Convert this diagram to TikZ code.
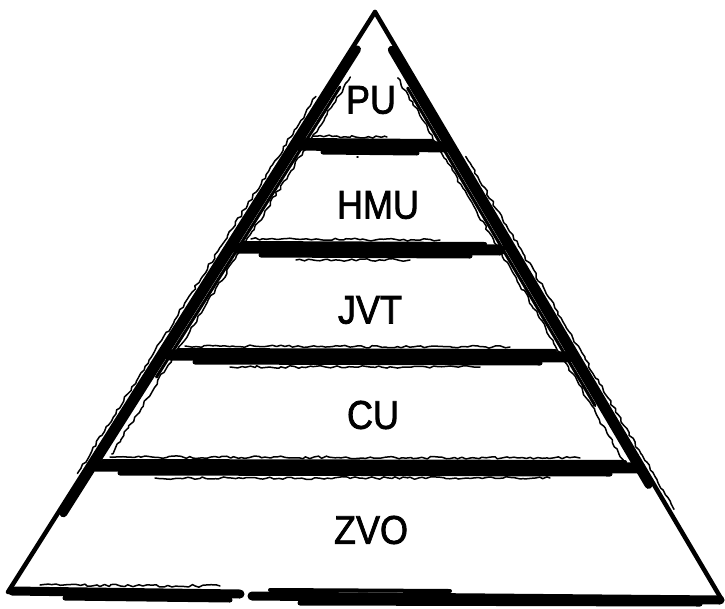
\documentclass[tikz,border=0pt]{standalone}
\usepackage{fontspec}
\setmainfont{Liberation Sans}
\newfontfamily\lblfont[FakeBold=2]{Liberation Sans}
\usetikzlibrary{decorations.pathmorphing,calc}
\begin{document}
\begin{tikzpicture}[x=1pt,y=-1pt,
  solid stroke/.style={line width=#1,line cap=round},
  brush/.style={line width=#1,line cap=round,line join=round,decorate,decoration={random steps,segment length=4pt,amplitude=1.3pt}},
  brush/.default=1.5pt,
  lbl/.style={font=\lblfont\fontsize{40}{40}\selectfont,inner sep=0pt,xscale=0.9}]
\pgfmathsetseed{7}
\useasboundingbox (0,0) rectangle (725,608);
% corners
\coordinate (A) at (375,12);
\coordinate (L) at (8,592);
\coordinate (R) at (722,600);
% edges (left)
\draw[solid stroke=4.5pt] (A) -- (L);
\draw[solid stroke=8pt] ($(A)!0.06!(L)+(4,2.5)$) -- ($(A)!0.86!(L)+(4,2.5)$);
\draw[solid stroke=3pt] ($(A)!0.12!(L)+(9,5.5)$) -- ($(A)!0.62!(L)+(9,5.5)$);
\draw[brush=1.5pt] ($(A)!0.1!(L)+(12,7)$) -- ($(A)!0.75!(L)+(12,7)$);
\draw[brush=1.5pt] ($(A)!0.15!(L)+(-4,-2.5)$) -- ($(A)!0.8!(L)+(-4,-2.5)$);
% edges (right)
\draw[solid stroke=4.5pt] (A) -- (R);
\draw[solid stroke=8pt] ($(A)!0.06!(R)+(-4,2.5)$) -- ($(A)!0.8!(R)+(-4,2.5)$);
\draw[solid stroke=3pt] ($(A)!0.12!(R)+(-9,5.5)$) -- ($(A)!0.66!(R)+(-9,5.5)$);
\draw[brush=1.5pt] ($(A)!0.1!(R)+(-12,7)$) -- ($(A)!0.75!(R)+(-12,7)$);
\draw[brush=1.5pt] ($(A)!0.25!(R)+(4,-2.5)$) -- ($(A)!0.85!(R)+(4,-2.5)$);
% band strokes
\foreach \y/\xa/\xb in {145/298/447, 248/236/500, 355/170/570, 466/95/640}{
  \draw[solid stroke=11pt] (\xa,\y) -- (\xb,\y+2);
  \draw[solid stroke=4pt] (\xa+8,\y-5) -- (\xb-15,\y-4);
  \draw[solid stroke=5pt] (\xa+25,\y+7) -- (\xb-30,\y+8);
  \draw[brush=1.5pt] (\xa+60,\y+12) -- (\xb-90,\y+12);
  \draw[brush=1.5pt] (\xa+15,\y-9) -- (\xb-60,\y-8);
}
% base
\draw[solid stroke=9pt] (12,591) -- (240,594);
\draw[solid stroke=5pt] (65,598) -- (230,600);
\draw[brush=1.5pt] (40,585) -- (220,586);
\draw[solid stroke=9pt] (252,596) -- (720,600);
\draw[solid stroke=4pt] (270,590) -- (450,591);
\draw[solid stroke=5pt] (300,603) -- (700,604);
% labels
\node[lbl] (pu) at (371,100) {PU};
\node[lbl] (hmu) at (378,205) {HMU};
\node[lbl] (jvt) at (370,310) {JVT};
\node[lbl] (cu) at (373,415) {CU};
\node[lbl] (zvo) at (371,530) {ZVO};
\end{tikzpicture}
\end{document}
